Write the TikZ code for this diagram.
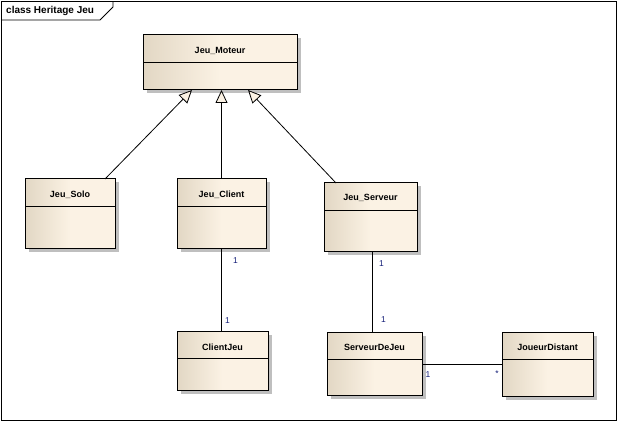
\documentclass[tikz,border=0pt]{standalone}
\usepackage{fontspec}
\setmainfont{Liberation Sans}
\usetikzlibrary{arrows.meta,shadows}
\definecolor{clsdark}{RGB}{226,215,196}
\definecolor{clslight}{RGB}{251,242,228}
\definecolor{multblue}{RGB}{20,30,120}
\begin{document}
\begin{tikzpicture}[x=1pt,y=-1pt,
  classbox/.style={draw=black, line width=1pt, left color=clsdark, right color=clslight, middle color=clslight,
    anchor=north west, inner sep=0pt, outer sep=0pt,
    drop shadow={shadow xshift=3.5pt, shadow yshift=-3.5pt, fill=black!25, opacity=1}},
  classname/.style={font=\fontsize{9}{10}\selectfont\bfseries, inner sep=0pt},
  divider/.style={line width=1pt},
  gen/.style={draw, line width=0.8pt, -{Triangle[length=13pt, width=12pt, fill=clslight, line width=0.8pt]}},
  assoc/.style={draw, line width=0.8pt},
  mult/.style={font=\fontsize{8.5}{10}\selectfont, text=multblue, inner sep=0pt},
]
\useasboundingbox (0,0) rectangle (618,422);

% diagram frame with its name tab
\draw[line width=0.9pt] (1.5,1.5) rectangle (616,420);
\draw[line width=0.9pt] (1.5,20) -- (100,20) -- (113,7) -- (113,1.5);
\node[font=\fontsize{10}{12}\selectfont\bfseries, anchor=west, inner sep=0pt] (title) at (6,11) {class Heritage Jeu};

% classes
\node[classbox, minimum width=154pt, minimum height=55pt] (moteur) at (143,35) {};
\node[classbox, minimum width=90pt, minimum height=69pt] (solo) at (25,179) {};
\node[classbox, minimum width=89pt, minimum height=69pt] (client) at (177,179) {};
\node[classbox, minimum width=93pt, minimum height=68pt] (serveur) at (324,183) {};
\node[classbox, minimum width=91pt, minimum height=59pt] (clientjeu) at (177,331) {};
\node[classbox, minimum width=95pt, minimum height=63pt] (sdj) at (327,332) {};
\node[classbox, minimum width=91pt, minimum height=64pt] (joueur) at (502,332) {};

% name compartments
\foreach \c in {moteur,solo,client,serveur,clientjeu,sdj,joueur}
  \draw[divider] ([yshift=-27.5pt]\c.north west) -- ([yshift=-27.5pt]\c.north east);

\node[classname] (moteurname) at ([yshift=-16pt]moteur.north) {Jeu\_Moteur};
\node[classname] (soloname) at ([yshift=-16pt]solo.north) {Jeu\_Solo};
\node[classname] (clientname) at ([yshift=-16pt]client.north) {Jeu\_Client};
\node[classname] (serveurname) at ([yshift=-14.5pt]serveur.north) {Jeu\_Serveur};
\node[classname] (clientjeuname) at ([yshift=-16pt]clientjeu.north) {ClientJeu};
\node[classname] (sdjname) at ([yshift=-15pt]sdj.north) {ServeurDeJeu};
\node[classname] (joueurname) at ([yshift=-15pt]joueur.north) {JoueurDistant};

% generalisations
\draw[gen] ([xshift=-10pt]solo.north east) -- ([xshift=-28pt]moteur.south);
\draw[gen] (client.north) -- (client.north |- moteur.south);
\draw[gen] ([xshift=12pt]serveur.north west) -- ([xshift=28pt]moteur.south);

% associations
\draw[assoc] (client.south) -- (client.south |- clientjeu.north);
\draw[assoc] ([xshift=1.5pt]serveur.south) -- ([xshift=1.5pt]serveur.south |- sdj.north);
\draw[assoc] ([yshift=-32pt]sdj.north east) -- ([yshift=-32pt]sdj.north east -| joueur.west);

% multiplicities
\node[mult] (m1) at (235.5,261) {1};
\node[mult] (m2) at (227.5,321) {1};
\node[mult] (m3) at (381.5,264) {1};
\node[mult] (m4) at (383.5,320) {1};
\node[mult] (m5) at (428,375) {1};
\node[mult] (m6) at (497,374) {*};
\end{tikzpicture}
\end{document}
